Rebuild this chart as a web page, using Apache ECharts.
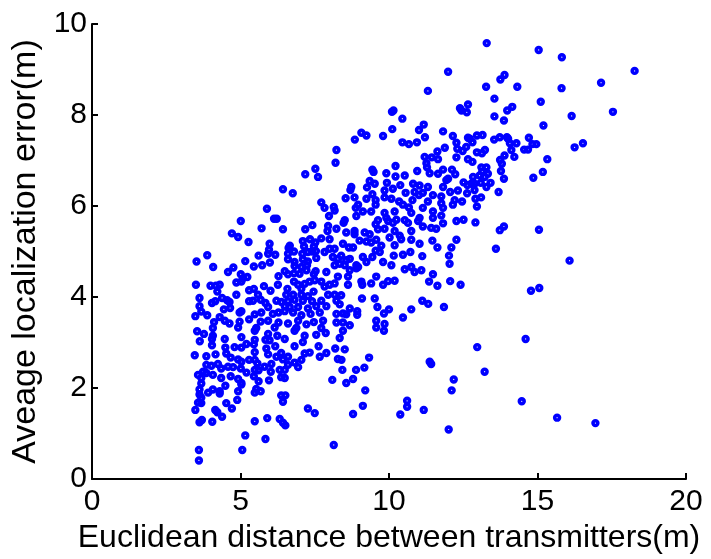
<!DOCTYPE html>
<html>
<head>
<meta charset="utf-8">
<script src="https://cdn.jsdelivr.net/npm/echarts@6/dist/echarts.min.js"></script>
<style>
html,body{margin:0;padding:0;background:#fff;}
#chart{width:711px;height:559px;}
</style>
</head>
<body>
<div id="chart"></div>
<script>
// Tick values
const xTicks = [0, 5, 10, 15, 20];
const yTicks = [0, 2, 4, 6, 8, 10];
const xLabel = 'Euclidean distance between transmitters(m)';
const yLabel = 'Aveage localization error(m)';

// Points [distance (m), average localization error (m)]
const upperLeft = [[6.43,6.37],[6.76,6.28],[7.72,6.08],[5.89,5.94],[6.13,5.72],[6.22,5.72],[5.01,5.67],[5.71,5.51],[6.43,5.49],[7.18,5.49],[7.42,5.58],[4.71,5.40],[4.92,5.32],[5.27,5.21],[7.10,5.23],[7.34,5.27],[7.52,5.20],[7.72,5.29],[5.98,5.17],[6.66,5.13],[6.62,5.08],[7.47,5.11],[5.96,5.04],[7.14,5.11],[3.88,4.92],[5.61,4.91],[5.93,4.95],[6.17,4.93],[6.60,4.95],[6.80,5.00],[7.08,4.95],[7.27,4.99],[7.41,5.00],[7.54,5.01],[3.52,4.78],[5.16,4.79],[5.73,4.70],[5.99,4.76],[6.60,4.83],[6.82,4.77],[7.10,4.83],[7.27,4.78],[7.55,4.86],[4.08,4.66],[4.76,4.65],[5.45,4.67],[6.82,4.68],[7.05,4.66],[7.24,4.70],[4.58,4.55],[5.01,4.50],[5.23,4.44],[6.49,4.57],[6.28,4.46],[6.60,4.50],[6.80,4.52],[6.99,4.51],[7.22,4.59],[7.53,4.57],[7.47,4.50],[3.50,4.27],[3.99,4.25],[4.17,4.25],[4.30,4.27],[4.86,4.32],[5.03,4.34],[5.08,4.41],[5.79,4.24],[6.26,4.27],[6.80,4.34],[6.94,4.27],[7.16,4.29],[7.33,4.34],[7.50,4.37],[7.72,4.34],[4.22,4.12],[5.29,4.15],[5.45,4.18],[6.01,4.14],[6.58,4.18],[7.05,4.18],[7.46,4.12],[3.62,3.98],[4.38,3.98],[4.86,4.05],[5.59,4.05],[6.54,4.05],[6.77,4.05],[7.05,4.05],[7.27,4.02],[4.04,3.87],[4.15,3.91],[4.55,3.93],[4.63,3.89],[5.29,3.91],[5.42,3.92],[5.68,3.94],[5.84,3.87],[6.21,3.92],[6.38,3.89],[6.60,3.91],[6.82,3.94],[7.10,3.92],[7.41,3.91],[7.72,3.92],[3.62,3.80],[4.44,3.73],[4.65,3.76],[5.03,3.69],[5.93,3.78],[6.49,3.80],[6.66,3.78],[6.94,3.78],[7.27,3.75],[7.55,3.80],[3.68,3.68],[3.48,3.58],[3.88,3.60],[4.30,3.56],[4.97,3.66],[5.29,3.51],[5.48,3.62],[5.70,3.66],[6.09,3.63],[6.28,3.66],[6.49,3.69],[6.77,3.66],[7.05,3.60],[7.36,3.63],[7.67,3.66],[4.11,3.45],[4.47,3.48],[4.63,3.42],[4.97,3.46],[5.68,3.46],[5.93,3.48],[6.28,3.44],[6.60,3.42],[6.94,3.48],[7.22,3.40],[7.47,3.45],[4.07,3.32],[4.92,3.33],[5.53,3.32],[6.15,3.33],[6.88,3.32],[7.72,3.32],[7.52,6.82],[7.61,6.64],[7.18,6.70]];

const lowerLeft = [[3.54,3.25],[3.77,3.19],[4.07,3.15],[4.04,3.08],[3.63,3.03],[4.47,3.08],[5.03,3.12],[5.48,3.26],[5.48,3.06],[5.84,3.06],[5.93,3.19],[5.98,3.05],[6.17,2.92],[6.24,3.15],[6.49,3.08],[6.82,3.26],[6.82,2.92],[7.10,3.01],[7.16,3.15],[7.55,3.17],[7.63,2.92],[7.16,2.76],[7.33,2.78],[4.04,2.94],[4.49,2.89],[4.80,2.90],[5.03,2.89],[5.20,2.97],[5.45,2.96],[5.87,2.87],[5.93,2.74],[3.46,2.72],[3.85,2.70],[4.16,2.74],[4.52,2.76],[4.67,2.67],[4.92,2.63],[5.03,2.58],[5.29,2.62],[5.48,2.79],[5.48,2.62],[5.57,2.54],[5.81,2.47],[6.04,2.53],[6.21,2.69],[6.37,2.77],[6.43,2.63],[6.60,2.69],[6.82,2.56],[6.94,2.46],[7.05,2.62],[7.67,2.69],[3.57,2.29],[3.74,2.36],[3.85,2.51],[4.02,2.49],[4.24,2.53],[4.35,2.43],[4.58,2.47],[4.75,2.46],[5.01,2.43],[5.20,2.34],[5.48,2.40],[5.61,2.39],[6.02,2.36],[6.32,2.40],[6.49,2.40],[6.60,2.51],[3.68,2.22],[3.85,2.33],[4.07,2.29],[4.35,2.22],[4.67,2.26],[4.92,2.20],[5.03,2.11],[5.45,2.26],[5.61,2.15],[5.96,2.17],[6.37,2.24],[6.49,2.22],[3.68,2.10],[3.62,1.97],[3.91,1.90],[4.07,1.97],[4.30,1.93],[4.30,1.88],[4.49,2.05],[4.92,1.93],[5.03,2.08],[5.48,1.90],[5.53,1.98],[5.68,1.93],[3.62,1.86],[3.68,1.79],[3.57,1.68],[3.48,1.52],[3.68,1.67],[6.37,1.84],[6.51,1.84],[6.43,1.70],[4.52,1.67],[4.89,1.74],[4.71,1.55],[4.15,1.52],[4.22,1.47],[4.38,1.37],[7.27,1.55],[7.50,1.45],[3.70,1.30],[3.62,1.25],[4.05,1.26],[5.48,1.27],[5.90,1.34],[6.32,1.32],[6.43,1.24],[6.51,1.18],[5.16,0.96],[5.84,0.88],[3.60,0.64],[5.06,0.64],[3.60,0.41]];

const midLower = [[8.47,5.63],[8.56,5.42],[8.84,5.45],[8.84,5.38],[9.18,5.42],[9.35,5.38],[9.55,5.60],[9.63,5.49],[9.85,5.50],[9.97,5.67],[10.13,5.63],[10.19,5.45],[10.36,5.35],[10.64,5.63],[10.75,5.45],[10.98,5.67],[11.14,5.55],[11.42,5.52],[11.59,5.50],[11.82,5.62],[12.27,5.67],[7.95,5.56],[7.93,5.45],[8.23,5.50],[8.00,5.27],[8.45,5.17],[8.65,5.09],[8.79,5.09],[9.01,5.24],[9.24,5.22],[9.40,5.20],[9.57,5.26],[9.74,5.13],[10.02,5.31],[10.19,5.14],[10.41,5.27],[10.75,5.26],[11.03,5.17],[11.46,5.24],[11.63,5.09],[12.10,5.09],[12.27,5.26],[7.83,4.99],[8.00,5.06],[8.17,5.06],[8.11,4.88],[8.28,4.84],[8.39,4.91],[8.56,4.81],[8.68,4.84],[8.90,4.70],[8.96,4.66],[9.12,4.88],[9.24,4.77],[9.44,4.88],[9.55,5.02],[9.69,4.99],[9.80,4.77],[10.08,4.70],[10.16,4.91],[10.47,4.93],[10.72,4.99],[11.12,4.90],[12.02,4.91],[12.04,4.73],[7.89,4.55],[8.17,4.70],[8.34,4.73],[8.51,4.70],[8.62,4.45],[8.68,4.59],[8.90,4.63],[10.53,4.61],[10.75,4.66],[10.86,4.55],[11.09,4.59],[11.48,4.50],[7.83,4.23],[8.00,4.27],[8.17,4.30],[8.28,4.45],[8.62,4.27],[9.10,4.27],[9.07,4.34],[9.40,4.30],[9.57,4.45],[9.80,4.27],[9.97,4.35],[10.19,4.36],[11.35,4.34],[11.63,4.25],[12.06,4.35],[7.95,4.05],[8.17,4.05],[8.39,4.04],[8.23,3.92],[7.89,3.80],[8.34,3.84],[8.68,3.75],[9.09,3.97],[9.52,3.97],[9.61,3.78],[9.83,3.64],[10.00,3.73],[10.47,3.55],[10.75,3.73],[11.12,3.92],[11.32,3.85],[11.85,3.78],[8.23,3.63],[8.45,3.64],[8.56,3.62],[8.93,3.69],[8.93,3.61],[7.78,3.48],[8.23,3.44],[8.45,3.44],[8.68,3.38],[9.57,3.48],[9.85,3.41],[9.57,3.33],[9.83,3.26],[7.87,3.21],[8.34,3.10],[8.45,3.26],[8.19,2.87],[8.51,2.85],[7.89,2.77],[9.33,2.67]];

const lowMid = [[8.28,2.64],[8.40,2.62],[11.37,2.58],[11.42,2.53],[8.43,2.40],[8.89,2.40],[9.17,2.45],[8.09,2.18],[8.56,2.11],[8.79,2.20],[9.20,1.95],[12.18,2.19],[12.11,1.95],[9.12,1.61],[8.79,1.43],[10.61,1.72],[10.61,1.59],[10.38,1.42],[11.17,1.52],[12.01,1.09],[8.14,0.75]];

const midUpper = [[11.31,8.53],[10.10,8.07],[10.15,8.10],[10.45,7.92],[9.07,7.61],[9.24,7.55],[8.85,7.46],[9.80,7.54],[10.11,7.69],[11.01,7.67],[11.17,7.79],[11.82,7.64],[12.15,7.54],[10.45,7.40],[10.67,7.36],[10.94,7.40],[11.21,7.51],[11.88,7.28],[12.27,7.39],[12.30,7.26],[8.23,7.23],[8.20,6.95],[11.20,7.08],[11.44,7.07],[11.65,7.03],[11.26,6.94],[11.63,7.20],[12.27,7.07],[9.44,6.80],[9.48,6.75],[10.22,6.88],[10.95,6.77],[11.28,6.85],[11.37,6.72],[11.65,6.71],[11.82,6.80],[11.99,6.60],[11.93,6.57],[9.35,6.55],[9.91,6.72],[10.53,6.67],[10.22,6.65],[9.93,6.51],[9.52,6.49],[10.38,6.46],[10.81,6.49],[11.03,6.45],[11.31,6.42],[11.82,6.42],[8.73,6.42],[8.70,6.35],[9.26,6.41],[9.85,6.34],[10.13,6.38],[10.56,6.29],[10.86,6.31],[11.14,6.29],[11.48,6.24],[11.76,6.21],[12.06,6.31],[9.44,6.26],[8.54,6.17],[8.84,6.19],[9.24,6.16],[9.55,6.13],[9.85,6.19],[10.08,6.16],[10.34,6.10],[10.79,6.13],[11.01,6.24],[11.31,6.10],[11.76,6.06],[12.21,6.13],[8.14,5.98],[8.96,6.03],[9.55,6.03],[10.47,6.03],[10.67,5.97],[11.14,5.96],[11.48,5.88],[11.82,5.96],[12.15,6.03],[7.83,5.96],[8.17,5.90],[8.88,5.96],[9.12,5.88],[9.40,5.88],[9.85,5.85],[10.19,5.88],[10.75,5.85],[11.03,5.74],[11.48,5.74],[11.76,5.79],[7.98,5.78],[8.51,5.69],[8.90,5.78],[9.63,5.69],[9.91,5.74],[10.25,5.70],[10.53,5.69],[12.12,6.80],[12.23,6.70],[11.99,8.95]];

const right = [[13.29,9.58],[15.04,9.43],[15.82,9.27],[18.27,8.97],[13.89,8.88],[13.75,8.78],[13.27,8.62],[14.32,8.62],[15.81,8.59],[17.14,8.71],[13.55,8.36],[15.11,8.29],[12.39,8.15],[12.44,8.10],[12.66,8.23],[12.62,8.06],[13.55,7.97],[13.87,7.88],[14.15,8.18],[13.98,8.10],[15.20,7.77],[16.15,7.98],[17.54,8.07],[12.66,7.50],[12.72,7.48],[12.96,7.55],[13.15,7.56],[12.60,7.30],[12.81,7.40],[12.48,7.21],[12.96,7.18],[13.13,7.16],[13.23,7.23],[13.54,7.46],[13.73,7.51],[13.97,7.51],[14.01,7.48],[14.07,7.38],[14.29,7.38],[14.12,7.23],[14.71,7.50],[14.83,7.36],[14.96,7.36],[14.55,7.24],[14.68,7.24],[16.25,7.29],[16.53,7.38],[12.66,7.03],[12.81,6.97],[13.89,7.11],[13.74,7.01],[13.80,6.93],[14.22,7.08],[15.33,7.03],[12.51,6.52],[13.11,6.85],[13.28,6.85],[13.14,6.76],[13.33,6.71],[13.22,6.64],[13.05,6.67],[13.77,6.77],[13.87,6.60],[14.86,6.62],[15.18,6.75],[12.83,6.64],[12.77,6.49],[12.88,6.49],[12.64,6.46],[13.09,6.51],[13.28,6.42],[13.42,6.51],[12.88,6.35],[12.63,6.28],[12.32,6.34],[12.46,6.10],[12.91,6.16],[13.10,6.19],[12.96,5.99],[13.69,6.31],[12.51,5.70],[12.91,5.64],[13.73,5.47],[13.87,5.55],[15.05,5.48],[13.60,5.06],[16.08,4.80],[12.41,4.27],[14.78,4.14],[15.06,4.20],[14.60,3.08],[12.97,2.90],[13.22,2.36],[14.47,1.71],[15.66,1.35],[16.95,1.23]];

const allPoints = [].concat(upperLeft, lowerLeft, midLower, lowMid, midUpper, right);

const fontFam = '"Liberation Sans", Arial, Helvetica, sans-serif';
const chart = echarts.init(document.getElementById('chart'), null, {renderer: 'canvas'});
chart.setOption({
  animation: false,
  backgroundColor: '#ffffff',
  grid: {left: 92, right: 25, top: 24, bottom: 72, containLabel: false},
  xAxis: {
    type: 'value', min: xTicks[0], max: xTicks[xTicks.length - 1], interval: 5,
    name: xLabel, nameLocation: 'middle', nameGap: 35,
    nameTextStyle: {fontSize: 32, color: '#000', fontFamily: fontFam},
    axisLine: {show: true, lineStyle: {color: '#000', width: 2}},
    axisTick: {show: true, inside: true, length: 6, lineStyle: {color: '#000', width: 2}},
    axisLabel: {fontSize: 30, color: '#000', fontFamily: fontFam, margin: 8},
    splitLine: {show: false}
  },
  yAxis: {
    type: 'value', min: yTicks[0], max: yTicks[yTicks.length - 1], interval: 2,
    name: yLabel, nameLocation: 'middle', nameGap: 33,
    nameTextStyle: {fontSize: 34, color: '#000', fontFamily: fontFam},
    axisLine: {show: true, lineStyle: {color: '#000', width: 2}},
    axisTick: {show: true, inside: true, length: 6, lineStyle: {color: '#000', width: 2}},
    axisLabel: {fontSize: 30, color: '#000', fontFamily: fontFam, margin: 5},
    splitLine: {show: false}
  },
  series: [{
    type: 'scatter',
    data: allPoints,
    symbol: 'circle',
    symbolSize: 4.8,
    itemStyle: {color: 'rgba(0,0,0,0)', borderColor: '#0000ff', borderWidth: 3.6, opacity: 1},
    emphasis: {disabled: true}
  }]
});
</script>
</body>
</html>
